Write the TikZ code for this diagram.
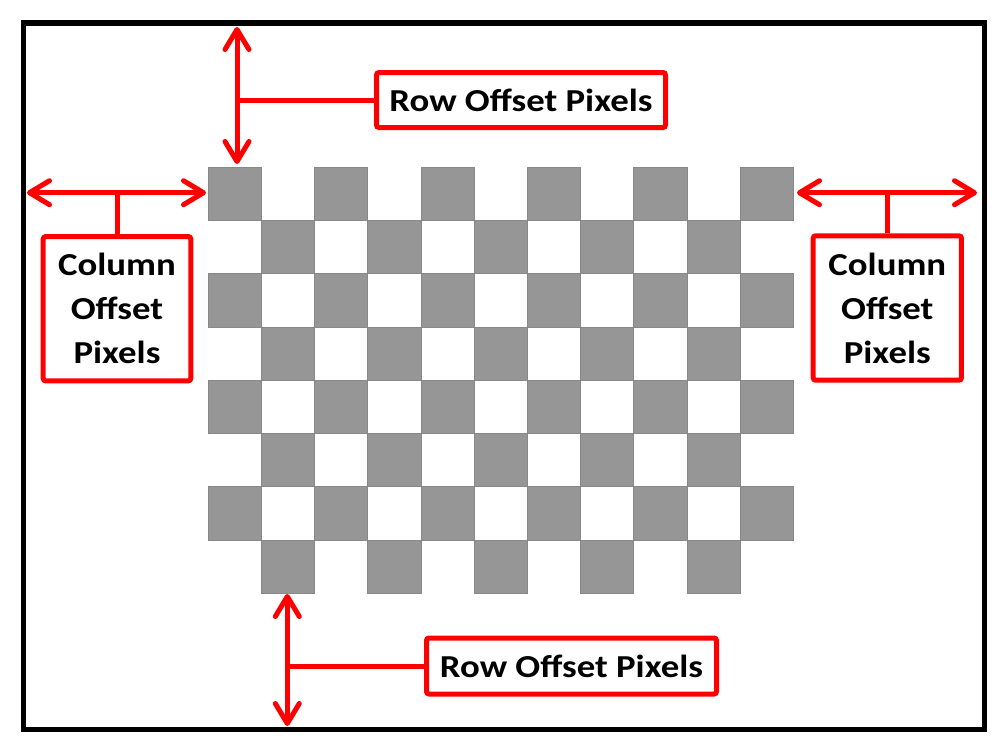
\documentclass[tikz,border=0pt]{standalone}
\usepackage{fontspec}
\setmainfont{Carlito}[FakeStretch=1.15]
\usetikzlibrary{arrows.meta}

\definecolor{sqgray}{RGB}{150,150,150}
\definecolor{sqedge}{RGB}{136,136,136}
\definecolor{offred}{RGB}{255,0,0}

\tikzset{
	offbox/.style={draw=offred, line width=5pt, rounded corners=2.5pt, fill=white, align=center, inner sep=0pt, font=\bfseries\fontsize{32}{44}\selectfont},
	offarrow/.style={draw=offred, line width=5pt, {Straight Barb[length=20pt,width=24pt,round]}-{Straight Barb[length=20pt,width=24pt,round]}},
	offstub/.style={draw=offred, line width=5pt},
	square/.style={fill=sqgray, draw=sqedge, line width=0.7pt},
}

\begin{document}
\begin{tikzpicture}[x=1pt,y=-1pt]
	\useasboundingbox (0,0) rectangle (1003,748);
	% image frame
	\draw[line width=5.5pt] (23.5,23.2) rectangle (984.3,729.5);
	% checkerboard, 11 columns by 8 rows
	\foreach \r in {0,...,7} {
		\foreach \c in {0,...,10} {
			\pgfmathtruncatemacro{\odd}{mod(\r+\c,2)}
			\ifnum\odd=0
				\draw[square] ({208.3+53.18*\c},{167.3+53.25*\r}) rectangle ++(53.18,53.25);
			\fi
		}
	}
	% arrow end points
	\coordinate (rtA) at (237,27);
	\coordinate (rtB) at (237,164);
	\coordinate (rbA) at (287.3,594);
	\coordinate (rbB) at (287.3,726);
	\coordinate (clA) at (27,192.7);
	\coordinate (clB) at (206,192.7);
	\coordinate (crA) at (797,192.7);
	\coordinate (crB) at (977,192.7);
	% labels
	\node[offbox, minimum width=289pt, minimum height=55pt] (rowtop) at (521,100) {Row Offset Pixels};
	\node[offbox, minimum width=290pt, minimum height=56pt] (rowbot) at (571.5,666) {Row Offset Pixels};
	\node[offbox, minimum width=147.6pt, minimum height=144.3pt] (colleft) at (117,308.7) {Column\\Offset\\Pixels};
	\node[offbox, minimum width=148.3pt, minimum height=144.4pt] (colright) at (887.3,308) {Column\\Offset\\Pixels};
	% offset arrows
	\draw[offarrow] (rtA) -- (rtB);
	\draw[offarrow] (rbA) -- (rbB);
	\draw[offarrow] (clA) -- (clB);
	\draw[offarrow] (crA) -- (crB);
	% stubs from the labels to the arrows
	\draw[offstub] (rowtop.west) -- (rowtop.west -| rtA);
	\draw[offstub] (rowbot.west) -- (rowbot.west -| rbA);
	\draw[offstub] (colleft.north) -- (colleft.north |- clA);
	\draw[offstub] (colright.north) -- (colright.north |- crA);
\end{tikzpicture}
\end{document}
